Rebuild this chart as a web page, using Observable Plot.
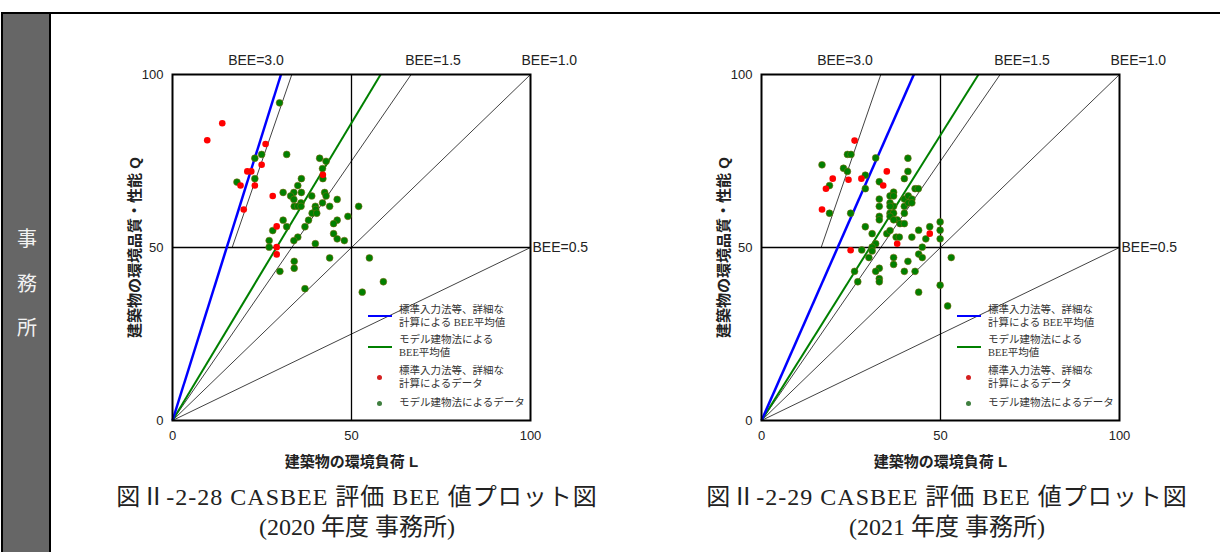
<!DOCTYPE html>
<html>
<head>
<meta charset="utf-8">
<script src="https://cdn.jsdelivr.net/npm/d3@7"></script>
<script src="https://cdn.jsdelivr.net/npm/@observablehq/plot@0.6"></script>
<style>
  html, body { margin: 0; padding: 0; background: #fff; }
  #page { position: relative; width: 1220px; height: 552px; overflow: hidden; background: #fff; }
  .abs { position: absolute; }
  .chart svg { overflow: visible; }
  .chart g[aria-label="x-axis label"] text,
  .chart g[aria-label="y-axis label"] text { font-weight: bold; font-size: 15px; }
  .caption { position: absolute; width: 600px; text-align: center; font-family: "Liberation Serif", "Noto Sans CJK JP", serif; font-size: 24px; color: #222; line-height: 30px; white-space: nowrap; }
  .caption .l1 { letter-spacing: 1px; }
  .legend { position: absolute; font-family: "Liberation Serif", "Noto Sans CJK JP", serif; font-size: 10.5px; color: #333; line-height: 12.5px; white-space: nowrap; }
  .side { position: absolute; color: #f2f2f2; font-family: "Noto Sans CJK JP", sans-serif; font-size: 20px; width: 48px; text-align: center; line-height: 24px; }
</style>
</head>
<body>
<div id="page"></div>
<script>
// ---------- data ----------
const beeLevels = [3.0, 1.5, 1.0, 0.5];
const beeLabels = ["BEE=3.0", "BEE=1.5", "BEE=1.0", "BEE=0.5"];
const beeStartQ = [50, 0, 0, 0];
const axisTicks = [0, 50, 100];

const years = ["2020", "2021"];
const figNumbers = ["図Ⅱ-2-28", "図Ⅱ-2-29"];
const captionTitle = "CASBEE 評価 BEE 値プロット図";
const buildingType = "事務所";

const avgStandardBEE = [3.3, 2.35];   // blue
const avgModelBEE = [1.72, 1.65];     // green

const red2020L = [13.9, 9.7, 26.0, 24.9, 20.9, 22.0, 19.0, 23.0, 28.0, 19.9, 42.0, 29.1, 29.1, 29.1];
const red2020Q = [85.9, 81.0, 79.9, 73.9, 72.0, 72.0, 67.9, 67.9, 64.9, 61.0, 71.0, 56.1, 50.1, 48.0];

const green2020L = [29.9, 31.9, 24.9, 23.0, 41.1, 42.9, 41.9, 42.0, 23.0, 18.0, 36.0, 35.0, 30.9, 33.9, 36.0, 33.0, 33.9, 38.9, 42.5, 42.9, 46.0, 35.9, 34.0, 35.0, 35.9, 39.9, 41.9, 43.9, 40.0, 39.0, 40.3, 52.0, 30.9, 38.0, 46.0, 49.0, 45.0, 31.9, 37.0, 28.0, 35.0, 33.9, 45.0, 46.0, 48.0, 39.9, 27.0, 27.0, 43.9, 55.0, 34.0, 34.0, 30.0, 37.0, 53.0, 58.9];
const green2020Q = [91.8, 76.9, 76.9, 75.8, 75.8, 74.9, 72.8, 69.9, 69.9, 68.9, 69.9, 67.9, 65.9, 65.9, 65.9, 64.9, 63.9, 64.9, 65.9, 64.9, 63.9, 62.9, 61.9, 61.9, 61.9, 61.9, 62.9, 61.9, 61.0, 59.9, 59.9, 61.9, 57.9, 57.9, 57.9, 59.0, 56.9, 56.0, 56.0, 54.9, 53.0, 52.0, 54.0, 52.5, 52.0, 51.1, 52.0, 50.1, 47.0, 47.0, 46.0, 44.0, 43.1, 38.1, 37.1, 40.1];

const red2021L = [26.0, 19.9, 18.0, 24.3, 27.9, 35.0, 34.0, 16.9, 47.0, 37.9, 24.9];
const red2021Q = [80.9, 69.9, 67.0, 69.6, 69.9, 72.0, 67.9, 61.0, 54.0, 51.1, 49.2];

const green2021L = [16.9, 24.0, 25.0, 31.9, 40.9, 22.9, 24.0, 40.9, 29.0, 39.9, 19.0, 32.9, 29.0, 42.9, 43.8, 36.9, 35.9, 36.9, 39.9, 41.0, 42.0, 32.9, 35.9, 36.9, 35.9, 39.9, 41.0, 42.0, 32.9, 19.0, 24.9, 35.9, 36.9, 39.9, 32.9, 32.9, 35.9, 37.9, 36.9, 38.7, 39.9, 29.0, 43.9, 47.0, 49.9, 49.9, 49.9, 30.9, 35.0, 35.9, 37.6, 38.5, 42.0, 45.9, 31.9, 30.9, 28.0, 44.9, 30.9, 53.0, 30.0, 36.9, 36.9, 40.9, 43.9, 44.9, 26.0, 32.9, 31.9, 39.9, 42.9, 26.9, 32.9, 32.9, 49.9, 43.9, 52.0];
const green2021Q = [73.9, 76.9, 76.9, 75.9, 75.8, 72.9, 72.0, 72.0, 70.9, 69.9, 67.9, 69.0, 67.0, 67.0, 67.0, 66.0, 64.9, 64.9, 64.0, 64.9, 64.0, 64.0, 62.9, 61.9, 61.9, 61.9, 62.9, 62.9, 61.9, 59.9, 59.9, 59.9, 59.9, 59.9, 59.0, 58.0, 59.0, 58.0, 58.0, 56.9, 56.9, 56.0, 55.0, 56.0, 57.4, 55.0, 52.5, 54.0, 54.0, 54.9, 53.0, 53.0, 53.0, 52.5, 51.1, 50.1, 49.3, 50.1, 49.0, 47.1, 47.1, 47.1, 45.1, 46.0, 48.1, 47.1, 43.1, 44.0, 43.1, 43.1, 43.1, 40.1, 41.0, 40.1, 39.1, 37.1, 33.1];

const legendTexts = [
  ["標準入力法等、詳細な", "計算による BEE平均値"],
  ["モデル建物法による", "BEE平均値"],
  ["標準入力法等、詳細な", "計算によるデータ"],
  ["モデル建物法によるデータ"]
];

const xLabel = "建築物の環境負荷 L";
const yLabel = "建築物の環境品質・性能 Q";

// ---------- helpers ----------
const zip = (L, Q) => L.map((l, i) => ({L: l, Q: Q[i]}));
const refSegs = beeLevels.map((b, i) => {
  const q0 = beeStartQ[i];
  const x2 = Math.min(100, 100 / b);
  return {bee: b, label: beeLabels[i], x1: q0 / b, y1: q0, x2, y2: x2 * b};
});
const avgSeg = (b) => {
  const x2 = Math.min(100, 100 / b);
  return [{x1: 0, y1: 0, x2, y2: x2 * b}];
};

function makeChart(idx, red, green) {
  const seg = (i) => [refSegs[i]];
  return Plot.plot({
    width: 560, height: 450,
    marginLeft: 112, marginRight: 90, marginTop: 44, marginBottom: 60,
    x: {domain: [0, 100]},
    y: {domain: [0, 100]},
    style: {fontFamily: "'Liberation Sans', Arial, 'Noto Sans CJK JP', sans-serif", fontSize: "13px", color: "#222", background: "transparent", overflow: "visible"},
    marks: [
      Plot.link(refSegs, {x1: "x1", y1: "y1", x2: "x2", y2: "y2", stroke: "#111", strokeWidth: 0.8}),
      Plot.ruleX([50], {stroke: "#000", strokeWidth: 1.3}),
      Plot.ruleY([50], {stroke: "#000", strokeWidth: 1.3}),
      Plot.link(avgSeg(avgModelBEE[idx]), {x1: "x1", y1: "y1", x2: "x2", y2: "y2", stroke: "#008000", strokeWidth: 2}),
      Plot.link(avgSeg(avgStandardBEE[idx]), {x1: "x1", y1: "y1", x2: "x2", y2: "y2", stroke: "#0000ff", strokeWidth: 2.5}),
      Plot.dot(green, {x: "L", y: "Q", r: 3.4, fill: "#008000", stroke: "#7a6a10", strokeWidth: 0.6}),
      Plot.dot(red, {x: "L", y: "Q", r: 3.3, fill: "#ff0000"}),
      Plot.frame({stroke: "#000", strokeWidth: 2}),
      Plot.text(seg(0), {x: "x2", y: "y2", text: "label", textAnchor: "end", dx: -8, dy: -14, fontSize: 14}),
      Plot.text(seg(1), {x: "x2", y: "y2", text: "label", textAnchor: "start", dx: -6, dy: -14, fontSize: 14}),
      Plot.text(seg(2), {x: "x2", y: "y2", text: "label", textAnchor: "start", dx: -9, dy: -14, fontSize: 14}),
      Plot.text(seg(3), {x: "x2", y: "y2", text: "label", textAnchor: "start", dx: 2, dy: 0, fontSize: 14}),
      Plot.axisX({ticks: axisTicks, tickSize: 0, tickPadding: 10, fontSize: 13, label: xLabel, labelAnchor: "center", labelOffset: 46, labelArrow: "none"}),
      Plot.axisY({ticks: axisTicks, tickSize: 0, tickPadding: 9, fontSize: 13, label: yLabel, labelAnchor: "center", labelOffset: 43, labelArrow: "none"})
    ]
  });
}

// ---------- layout ----------
const page = document.getElementById("page");
function div(cls, style, html) {
  const d = document.createElement("div");
  if (cls) d.className = cls;
  d.style.cssText = style;
  if (html != null) d.innerHTML = html;
  page.appendChild(d);
  return d;
}

// frame + sidebar
div("abs", "left:1px;top:12px;width:1219px;height:2px;background:#000;");
div("abs", "left:1px;top:13px;width:2px;height:539px;background:#000;");
div("abs", "left:3px;top:14px;width:46px;height:538px;background:#666;");
div("abs", "left:49px;top:13px;width:2px;height:539px;background:#000;");
[...buildingType].forEach((ch, i) => div("side", `left:3px;top:${226 + i * 44.5}px;`, ch));

const datasets = [
  {red: zip(red2020L, red2020Q), green: zip(green2020L, green2020Q)},
  {red: zip(red2021L, red2021Q), green: zip(green2021L, green2021Q)}
];
const chartLeft = [60, 649];
const captionCenter = [357, 947];

datasets.forEach((ds, i) => {
  const holder = div("abs chart", `left:${chartLeft[i]}px;top:30px;width:560px;height:450px;`);
  holder.appendChild(makeChart(i, ds.red, ds.green));

  // legend (overlay inside plot area)
  const ox = chartLeft[i] + 112; // plot-left in page coords
  const lg = div("legend", `left:${ox}px;top:0px;width:0;height:0;`);
  const swatchLine = (c, y) => `<div style="position:absolute;left:196px;top:${y - 1}px;width:24px;height:2px;background:${c}"></div>`;
  const swatchDot = (c, y) => `<div style="position:absolute;left:${207 - 2.5}px;top:${y - 2.5}px;width:5px;height:5px;border-radius:50%;background:${c}"></div>`;
  const txt = (lines, y) => `<div style="position:absolute;left:227px;top:${y}px;">${lines.join("<br>")}</div>`;
  lg.innerHTML =
    swatchLine("#0000ff", 316) + txt(legendTexts[0], 304) +
    swatchLine("#008000", 347) + txt(legendTexts[1], 334) +
    swatchDot("#d42020", 377) + txt(legendTexts[2], 365) +
    swatchDot("#3f7f3f", 403) + txt(legendTexts[3], 397);

  div("caption", `left:${captionCenter[i] - 300}px;top:482px;`,
    `<span class="l1">${figNumbers[i]} ${captionTitle}</span><br>(${years[i]} 年度 ${buildingType})`);
});
</script>
</body>
</html>
